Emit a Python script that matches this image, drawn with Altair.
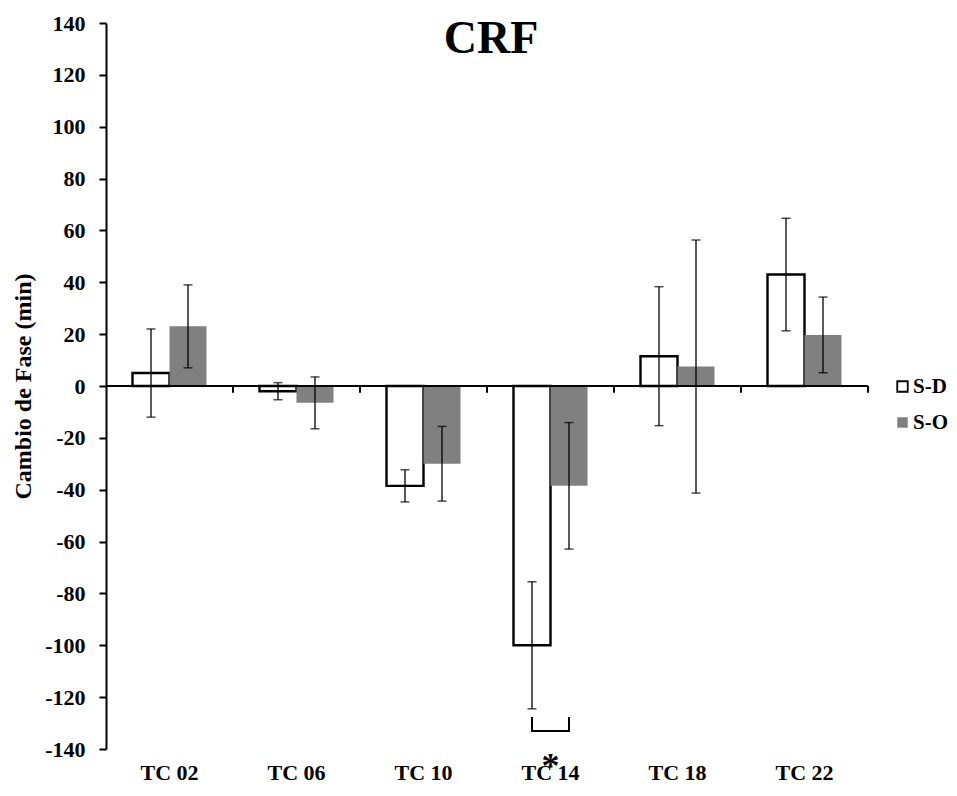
import altair as alt
import pandas as pd

cats = ["TC 02", "TC 06", "TC 10", "TC 14", "TC 18", "TC 22"]
series = ["S-D", "S-O"]
sd_mean = [5, -2, -38.5, -100, 11.5, 43]
sd_err = [17, 3.3, 6.2, 24.5, 26.8, 21.7]
so_mean = [23, -6.5, -30, -38.5, 7.5, 19.7]
so_err = [16, 10, 14.4, 24.4, 48.8, 14.6]

# significance bracket (TC 14) and marker
sig_cat = "TC 14"
bracket_y = [-127.7, -133.1, -133.1, -127.7]
bracket_series = ["S-D", "S-D", "S-O", "S-O"]
star_y = -151

title_text = "CRF"

FONT = "Liberation Serif"
W, H = 762, 726

rows = []
for i, c in enumerate(cats):
    rows.append({"cat": c, "series": "S-D", "mean": sd_mean[i], "err": sd_err[i]})
    rows.append({"cat": c, "series": "S-O", "mean": so_mean[i], "err": so_err[i]})
df = pd.DataFrame(rows)
df["lo"] = df["mean"] - df["err"]
df["hi"] = df["mean"] + df["err"]

bracket_df = pd.DataFrame({"cat": [sig_cat] * 4, "series": bracket_series,
                           "y": bracket_y, "order": [0, 1, 2, 3]})
star_df = pd.DataFrame({"cat": [sig_cat], "y": [star_y], "t": ["*"]})
bounds_df = pd.DataFrame({"cat": cats})
title_df = pd.DataFrame({"t": [title_text]})

xaxis = alt.Axis(title=None, labelAngle=0, domain=False, ticks=False, grid=False,
                 labelFont=FONT, labelFontSize=22, labelFontWeight="bold",
                 labelColor="black", labelPadding=13)
xscale = alt.Scale(domain=cats, paddingInner=0, paddingOuter=0)


def X(**kw):
    return alt.X("cat:N", sort=cats, scale=xscale, axis=xaxis, **kw)


XO = alt.XOffset("series:N", sort=series,
                 scale=alt.Scale(domain=series, paddingInner=0, paddingOuter=0.716))

yscale = alt.Scale(domain=[-140, 140], nice=False, zero=False)
yaxis = alt.Axis(title="Cambio de Fase (min)", values=list(range(-140, 141, 20)),
                 labelExpr="'' + datum.value",
                 grid=False, domainColor="black", domainWidth=2, tickColor="black",
                 tickWidth=2, tickSize=7, labelFont=FONT, labelFontSize=22,
                 labelFontWeight="bold", labelColor="black", labelPadding=14,
                 titleFont=FONT, titleFontSize=24, titleFontWeight="bold",
                 titleColor="black", titlePadding=9)

bars = alt.Chart(df).mark_bar(strokeWidth=2.4).encode(
    x=X(),
    xOffset=XO,
    y=alt.Y("mean:Q", scale=yscale, axis=yaxis),
    fill=alt.Fill("series:N", sort=series,
                  scale=alt.Scale(domain=series, range=["white", "#808080"]),
                  legend=alt.Legend(title=None)),
    stroke=alt.Stroke("series:N", sort=series,
                      scale=alt.Scale(domain=series, range=["black", "transparent"]),
                      legend=alt.Legend(title=None)),
)

err = alt.Chart(df).mark_rule(color="black", strokeWidth=1.3).encode(
    x=X(), xOffset=XO, y="lo:Q", y2="hi:Q")
cap_hi = alt.Chart(df).mark_tick(color="black", size=9, thickness=1.5,
                                 orient="horizontal").encode(x=X(), xOffset=XO, y="hi:Q")
cap_lo = alt.Chart(df).mark_tick(color="black", size=9, thickness=1.5,
                                 orient="horizontal").encode(x=X(), xOffset=XO, y="lo:Q")

zero = alt.Chart(bounds_df).mark_rule(color="black", strokeWidth=2).encode(
    y=alt.datum(0))
bticks = alt.Chart(bounds_df).mark_rule(color="black", strokeWidth=2).encode(
    x=X(bandPosition=1), y=alt.datum(0), y2=alt.datum(-2.6))

bracket = alt.Chart(bracket_df).mark_line(color="black", strokeWidth=2).encode(
    x=X(), xOffset=XO, y="y:Q", order="order:Q")
star = alt.Chart(star_df).mark_text(font=FONT, fontSize=36, fontWeight="bold",
                                    color="black", baseline="alphabetic").encode(
    x=X(), y="y:Q", text="t:N")

title = alt.Chart(title_df).mark_text(font=FONT, fontSize=46, fontWeight="bold",
                                      color="black", baseline="alphabetic",
                                      align="center").encode(
    x=alt.value(W / 2 + 4), y=alt.value(30), text="t:N")

chart = alt.layer(bars, err, cap_hi, cap_lo, zero, bticks, bracket, star, title).properties(
    width=W, height=H,
    autosize=alt.AutoSizeParams(type="none"),
    padding={"left": 98, "top": 15, "right": 81, "bottom": 39},
).configure_view(stroke=None).configure_legend(
    orient="none", legendX=786, legendY=353, symbolType="square", symbolSize=110,
    symbolStrokeWidth=1.8, labelFont=FONT, labelFontSize=21, labelFontWeight="bold",
    labelColor="black", rowPadding=14, labelOffset=0,
)

chart.save("out.html", embed_options={"renderer": "svg", "actions": False})
